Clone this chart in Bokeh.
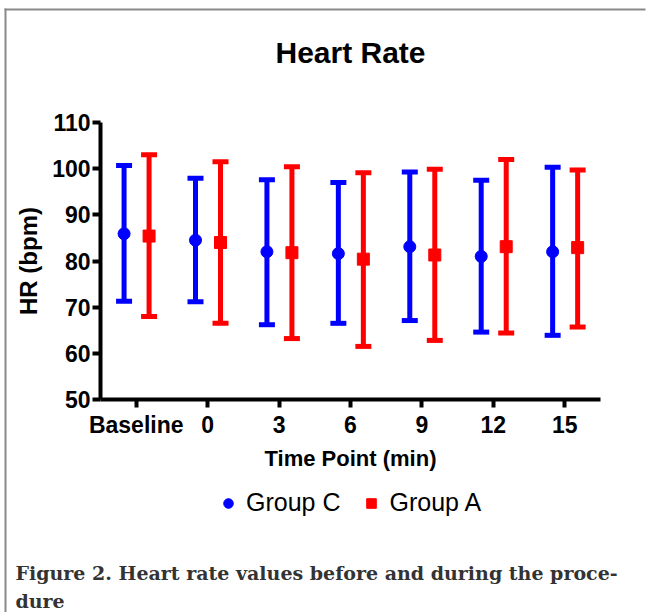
from bokeh.plotting import figure
from bokeh.models import (ColumnDataSource, Whisker, TeeHead, Legend, LegendItem,
                          Label, FixedTicker, Range1d, BoxAnnotation)
from bokeh.transform import dodge
from bokeh.embed import file_html
from bokeh.resources import INLINE

# ---- data ----
time_labels = ["Baseline", "0", "3", "6", "9", "12", "15"]
time_pos = [0, 1, 2, 3, 4, 5, 6]
c_mean = [85.9, 84.5, 82.0, 81.6, 83.1, 81.0, 82.0]
c_upper = [100.7, 97.9, 97.6, 97.0, 99.3, 97.5, 100.3]
c_lower = [71.3, 71.2, 66.2, 66.5, 67.1, 64.6, 63.9]
a_mean = [85.4, 84.0, 81.8, 80.4, 81.3, 83.1, 82.9]
a_upper = [103.0, 101.5, 100.4, 99.1, 99.9, 102.0, 99.7]
a_lower = [68.0, 66.5, 63.2, 61.5, 62.8, 64.4, 65.7]
y_ticks = [50, 60, 70, 80, 90, 100, 110]
y_axis_span = (50, 110)
x_axis_span = (-0.5, 6.5)

BLUE = "#0000FF"
RED = "#FF0000"
FONT = "Liberation Sans"

W, H = 646, 612
# frame covers the whole canvas; axes are pinned inside it
PX_Y = 277 / 60.0     # pixels per bpm
PX_X = 500 / 7.0      # pixels per time slot
y_lo = y_axis_span[0] - 213 / PX_Y
y_hi = y_axis_span[1] + 122 / PX_Y
x_lo = x_axis_span[0] - 100 / PX_X
x_hi = x_axis_span[1] + 46 / PX_X

src_c = ColumnDataSource(dict(x=time_pos, mean=c_mean, upper=c_upper, lower=c_lower))
src_a = ColumnDataSource(dict(x=time_pos, mean=a_mean, upper=a_upper, lower=a_lower))

p = figure(width=W, height=H, output_backend="svg", toolbar_location=None,
           x_range=Range1d(x_lo, x_hi), y_range=Range1d(y_lo, y_hi),
           min_border=0)
p.outline_line_color = None
p.xgrid.visible = False
p.ygrid.visible = False

# page frame lines (top and left only), as thin filled strips
strip_kw = dict(left_units="screen", right_units="screen", top_units="screen",
                bottom_units="screen", fill_color="#8a8a8a", fill_alpha=1,
                line_color=None)
p.add_layout(BoxAnnotation(left=4, right=6, top=H - 8, bottom=0, **strip_kw))
p.add_layout(BoxAnnotation(left=4, right=W - 1, top=H - 8, bottom=H - 10, **strip_kw))

for ax in (p.xaxis[0], p.yaxis[0]):
    ax.axis_line_width = 4
    ax.axis_line_color = "black"
    ax.major_tick_line_width = 4
    ax.major_tick_out = 8
    ax.major_tick_in = 0
    ax.minor_tick_line_color = None
    ax.major_label_text_font = FONT
    ax.major_label_text_font_style = "bold"
    ax.major_label_text_font_size = "23px"
    ax.major_label_text_color = "black"
    ax.axis_label_text_font = FONT
    ax.axis_label_text_font_style = "bold"
    ax.axis_label_text_color = "black"

yax = p.yaxis[0]
yax.ticker = FixedTicker(ticks=y_ticks)
yax.bounds = y_axis_span
yax.fixed_location = x_axis_span[0]
yax.axis_label = "HR (bpm)"
yax.axis_label_text_font_size = "24px"
yax.major_label_standoff = 2
yax.axis_label_standoff = 7

xax = p.xaxis[0]
xax.ticker = FixedTicker(ticks=time_pos)
xax.bounds = x_axis_span
xax.fixed_location = y_axis_span[0]
xax.major_label_overrides = {i: lab for i, lab in zip(time_pos, time_labels)}
xax.axis_label = "Time Point (min)"
xax.axis_label_text_font_size = "22px"
xax.major_label_standoff = 4
xax.axis_label_standoff = 5

# error bars
for src, col, off in ((src_c, BLUE, -0.17), (src_a, RED, 0.18)):
    w = Whisker(source=src, base=dodge("x", off), upper="upper", lower="lower",
                line_color=col, line_width=5,
                upper_head=TeeHead(size=16, line_color=col, line_width=5),
                lower_head=TeeHead(size=16, line_color=col, line_width=5))
    p.add_layout(w)

r_c = p.scatter(x=dodge("x", -0.17), y="mean", source=src_c, marker="circle",
                size=12, color=BLUE)
r_a = p.scatter(x=dodge("x", 0.18), y="mean", source=src_a, marker="square",
                size=12, color=RED)

legend = Legend(items=[LegendItem(label="Group C", renderers=[r_c]),
                       LegendItem(label="Group A", renderers=[r_a])],
                orientation="horizontal", location=(216, 95),
                label_text_font=FONT, label_text_font_size="25px",
                label_text_color="black", glyph_width=24, glyph_height=24,
                label_standoff=6, spacing=19, padding=0, margin=0,
                border_line_color=None, background_fill_alpha=0)
p.add_layout(legend, "center")

# title
p.add_layout(Label(x=350, y=H - 51.5, x_units="screen", y_units="screen",
                   text="Heart Rate", text_align="center", text_baseline="middle",
                   text_font=FONT, text_font_style="bold", text_font_size="30px",
                   text_color="black"))

# caption
cap_kw = dict(x_units="screen", y_units="screen", text_align="left",
              text_baseline="alphabetic", text_font="DejaVu Serif",
              text_font_style="bold", text_font_size="19px", text_color="#333333")
p.add_layout(Label(x=15, y=H - 572,
                   text="Figure 2. Heart rate values before and during the proce-", **cap_kw))
p.add_layout(Label(x=15, y=H - 600, text="dure", **cap_kw))

open("out.html", "w").write(file_html(p, INLINE))
